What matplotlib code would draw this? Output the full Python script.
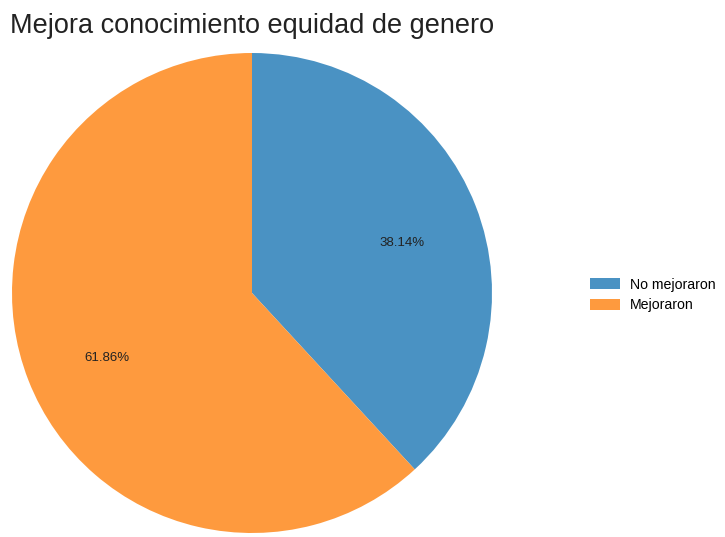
import matplotlib.pyplot as plt
from matplotlib.patches import Patch

plt.rcParams['font.family'] = ['Liberation Sans', 'DejaVu Sans']

etiquetas = ['No mejoraron', 'Mejoraron']
porcentajes = [38.14, 61.86]
colores = ['#4a92c3', '#fe9a3e']

fig = plt.figure(figsize=(7.25, 5.37), dpi=100)

# ejes del pastel, ocupando la parte izquierda de la figura
ax = fig.add_axes([12 / 725, 4 / 537, 480 / 725, 480 / 537])
wedges, textos, autotextos = ax.pie(
    porcentajes, colors=colores, startangle=90, counterclock=False,
    autopct='%.2f%%', pctdistance=0.66,
    textprops=dict(fontsize=9.5, color='#222222'))
# bajar un poco los porcentajes
for t in autotextos:
    x, y = t.get_position()
    t.set_position((x + 0.01, y - 0.03))
ax.set_xlim(-1, 1)
ax.set_ylim(-1, 1)
ax.set_aspect('equal')

fig.text(10 / 725, 1 - 33 / 537, 'Mejora conocimiento equidad de genero',
         fontsize=19.5, color='#222222', ha='left', va='baseline')

handles = [Patch(facecolor=c, edgecolor='none') for c in colores]
fig.legend(handles, etiquetas, loc='center left',
           bbox_to_anchor=(577 / 725, 1 - 295 / 537), frameon=False,
           fontsize=10.2, handlelength=2.1, handleheight=0.8,
           handletextpad=0.75, labelspacing=0.45)

fig.savefig('out.png', dpi=100)
